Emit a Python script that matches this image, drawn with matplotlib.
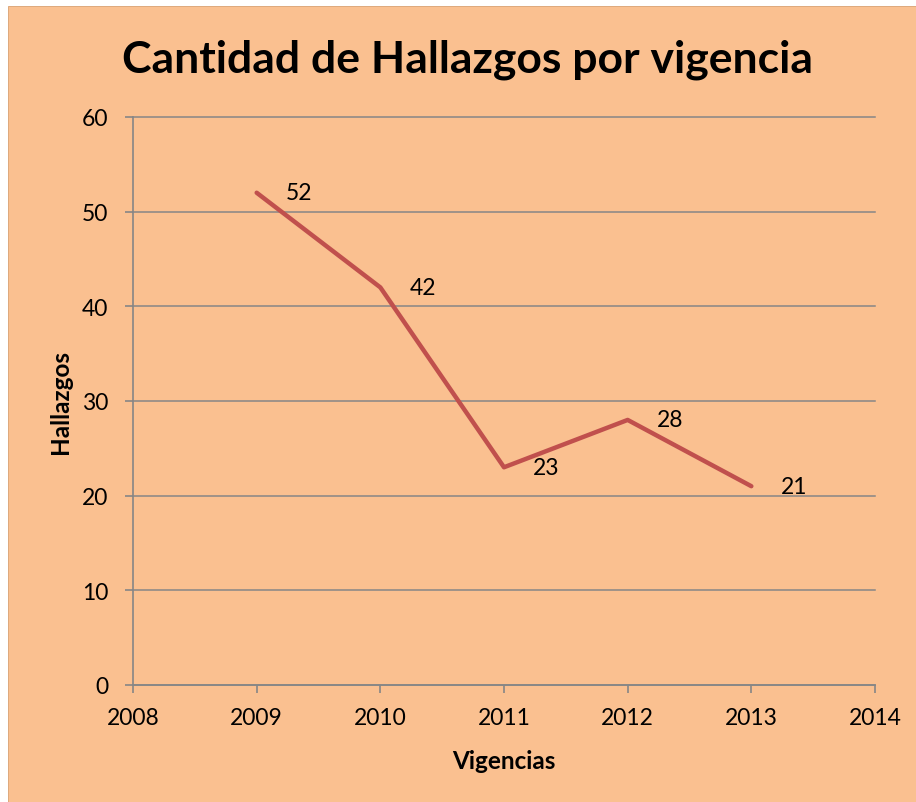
import matplotlib.pyplot as plt
from matplotlib.patches import Rectangle

# datos
vigencias = [2009, 2010, 2011, 2012, 2013]
hallazgos = [52, 42, 23, 28, 21]
xticks = [2008, 2009, 2010, 2011, 2012, 2013, 2014]
yticks = [0, 10, 20, 30, 40, 50, 60]

bg = "#FAC090"
gris = "#868686"
rojo = "#C0504D"

plt.rcParams['font.family'] = ['Lato', 'DejaVu Sans']

fig = plt.figure(figsize=(9.16, 8.03), dpi=100)
fig.patch.set_facecolor("white")
fig.patches.append(Rectangle((8 / 916, 0), 1, 1 - 7 / 803, transform=fig.transFigure,
                             facecolor=bg, edgecolor="#D9A070", linewidth=0.6, zorder=-10))

ax = fig.add_axes([133 / 916, 1 - 686 / 803, (875 - 133) / 916, (686 - 118) / 803])
ax.set_facecolor(bg)
ax.patch.set_alpha(0)

ax.plot(vigencias, hallazgos, color=rojo, linewidth=3.2, solid_capstyle="round", zorder=3)
for x, y in zip(vigencias, hallazgos):
    ax.annotate(str(y), (x, y), xytext=(21, 0), textcoords="offset points",
                ha="left", va="center", fontsize=16.5, color="black")

ax.set_xlim(2008, 2014)
ax.set_ylim(0, 60)
ax.set_xticks(xticks)
ax.set_yticks(yticks)
ax.set_xticklabels([str(t) for t in xticks])
ax.tick_params(axis="both", labelsize=16.5, colors=gris, labelcolor="black", width=1.2, length=6)
ax.tick_params(axis="x", pad=10)
ax.tick_params(axis="y", pad=12)

ax.yaxis.grid(True, color=gris, linewidth=1.1, clip_on=False)
ax.set_axisbelow(True)
for s in ["top", "right"]:
    ax.spines[s].set_visible(False)
for s in ["left", "bottom"]:
    ax.spines[s].set_color(gris)
    ax.spines[s].set_linewidth(1.2)

ax.set_xlabel("Vigencias", fontsize=17.5, fontweight="bold", labelpad=15)
ax.set_ylabel("Hallazgos", fontsize=17.5, fontweight="bold", labelpad=7)

fig.text(468 / 916, 1 - 60 / 803, "Cantidad de Hallazgos por vigencia", ha="center", va="center",
         fontsize=32, fontweight="bold")

fig.savefig("out.png", dpi=100)
